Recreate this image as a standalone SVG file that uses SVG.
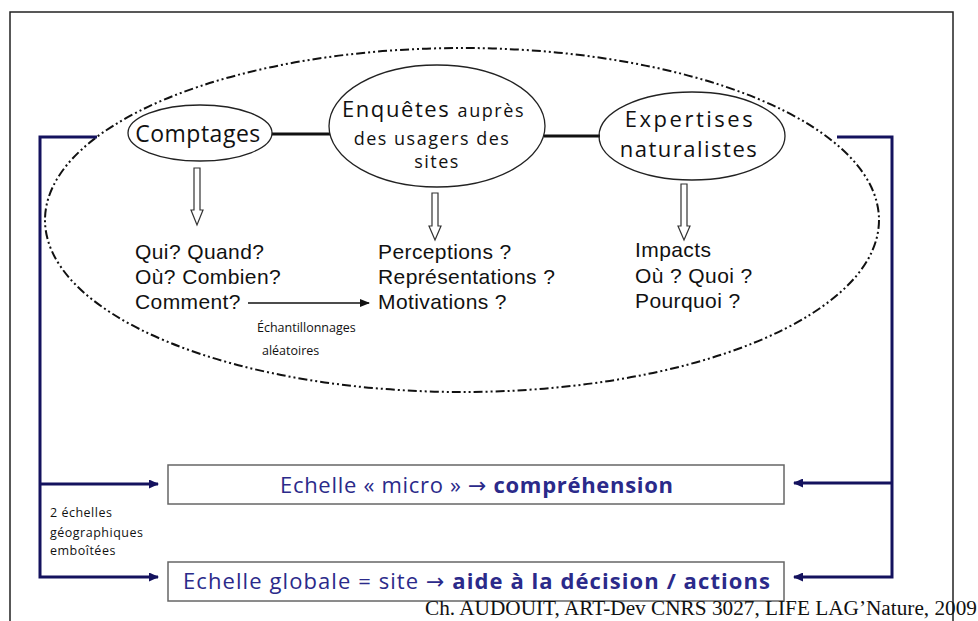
<svg xmlns="http://www.w3.org/2000/svg" width="978" height="621" viewBox="0 0 978 621">
<defs>
<style>
.frame{fill:#fff;stroke:#222;stroke-width:1.5}
.oval{fill:none;stroke:#222;stroke-width:1.3}
.outer{fill:none;stroke:#111;stroke-width:2;stroke-dasharray:9 3 2 3 2 3}
.hollow{fill:#fff;stroke:#333;stroke-width:1.2}
.link{stroke:#111;stroke-width:3}
.nav{fill:none;stroke:#14125e;stroke-width:3}
.box{fill:#fff;stroke:#666;stroke-width:1.5}
.lbl{font-family:"Open Sans","DejaVu Sans",sans-serif;fill:#111}
.q{font-family:"Liberation Sans",Arial,sans-serif;font-size:21px;letter-spacing:0.4px;fill:#111}
.sm{font-family:"Open Sans","DejaVu Sans",sans-serif;font-size:12.5px;fill:#111}
.bt{font-family:"Open Sans","DejaVu Sans",sans-serif;font-size:22px;fill:#2b2a8a}
.b{font-weight:bold}
</style>
<marker id="ah" markerWidth="10" markerHeight="8" refX="9" refY="4" orient="auto" markerUnits="userSpaceOnUse">
<path d="M0,0 L10,4 L0,8 Z" fill="#111"/>
</marker>
<marker id="nh" markerWidth="10" markerHeight="9" refX="9" refY="4.5" orient="auto" markerUnits="userSpaceOnUse">
<path d="M0,0 L10,4.5 L0,9 Z" fill="#14125e"/>
</marker>
</defs>
<rect x="0" y="0" width="978" height="621" fill="#fff"/>
<rect class="frame" x="10" y="12" width="943" height="620"/>

<g id="outer-ellipse">
<ellipse class="outer" cx="462" cy="220" rx="417" ry="172"/>
</g>

<g id="connectors">
<line class="link" x1="272" y1="134" x2="330" y2="134"/>
<line class="link" x1="544" y1="136" x2="600" y2="136"/>
<polygon class="hollow" points="194,168 200,168 200,210 203,210 197,225 191,210 194,210"/>
<polygon class="hollow" points="432,193 438,193 438,226 441,226 435,240 429,226 432,226"/>
<polygon class="hollow" points="681,184 687,184 687,226 690,226 684,240 678,226 681,226"/>
<line x1="248" y1="303" x2="369" y2="303" stroke="#111" stroke-width="1.5" marker-end="url(#ah)"/>
<path class="nav" d="M97,137 H40 V577 H158" marker-end="url(#nh)"/>
<path class="nav" d="M40,484 H158" marker-end="url(#nh)"/>
<path class="nav" d="M837,137 H892 V577 H794" marker-end="url(#nh)"/>
<path class="nav" d="M892,483 H794" marker-end="url(#nh)"/>
</g>

<g id="comptages">
<ellipse class="oval" cx="200" cy="133" rx="72" ry="28"/>
<text class="lbl" x="198" y="142" font-size="23" text-anchor="middle" letter-spacing="0.5">Comptages</text>
</g>

<g id="enquetes">
<ellipse class="oval" cx="437" cy="126" rx="108" ry="61"/>
<text class="lbl" x="342" y="117" font-size="22" letter-spacing="1.5" textLength="183">Enquêtes <tspan font-size="18">auprès</tspan></text>
<text class="lbl" x="432" y="145" font-size="18" text-anchor="middle" letter-spacing="1.5">des usagers des</text>
<text class="lbl" x="437" y="168" font-size="18" text-anchor="middle" letter-spacing="1.5">sites</text>
</g>

<g id="expertises">
<ellipse class="oval" cx="692" cy="136" rx="93" ry="44"/>
<text class="lbl" x="690" y="127" font-size="22" text-anchor="middle" letter-spacing="2.5">Expertises</text>
<text class="lbl" x="689" y="157" font-size="22" text-anchor="middle" letter-spacing="1.5">naturalistes</text>
</g>

<g id="questions-comptages">
<text class="q" x="135" y="259">Qui? Quand?</text>
<text class="q" x="135" y="284">Où? Combien?</text>
<text class="q" x="135" y="309">Comment?</text>
</g>

<g id="echantillonnages">
<text class="sm" x="257" y="332">Échantillonnages</text>
<text class="sm" x="262" y="355">aléatoires</text>
</g>

<g id="questions-enquetes">
<text class="q" x="378" y="259">Perceptions ?</text>
<text class="q" x="378" y="284">Représentations ?</text>
<text class="q" x="378" y="309">Motivations ?</text>
</g>

<g id="questions-expertises">
<text class="q" x="635" y="257">Impacts</text>
<text class="q" x="635" y="283">Où ? Quoi ?</text>
<text class="q" x="635" y="308">Pourquoi ?</text>
</g>

<g id="echelle-micro">
<rect class="box" x="168" y="465" width="616" height="39"/>
<text class="bt" x="280" y="493" textLength="393">Echelle « micro » → <tspan class="b">compréhension</tspan></text>
</g>

<g id="echelle-globale">
<rect class="box" x="168" y="562" width="616" height="39"/>
<text class="bt" x="183" y="589" textLength="587">Echelle globale = site → <tspan class="b">aide à la décision / actions</tspan></text>
</g>

<g id="deux-echelles">
<text class="sm" font-size="14" letter-spacing="0.5" x="50" y="517">2 échelles</text>
<text class="sm" font-size="14" letter-spacing="0.5" x="50" y="537">géographiques</text>
<text class="sm" font-size="14" letter-spacing="0.5" x="50" y="555">emboîtées</text>
</g>

<g id="credit">
<text x="425" y="615" font-family="'Liberation Serif','Times New Roman',serif" font-size="20" fill="#111" textLength="552" lengthAdjust="spacingAndGlyphs">Ch. AUDOUIT, ART-Dev CNRS 3027, LIFE LAG’Nature, 2009</text>
</g>
</svg>
